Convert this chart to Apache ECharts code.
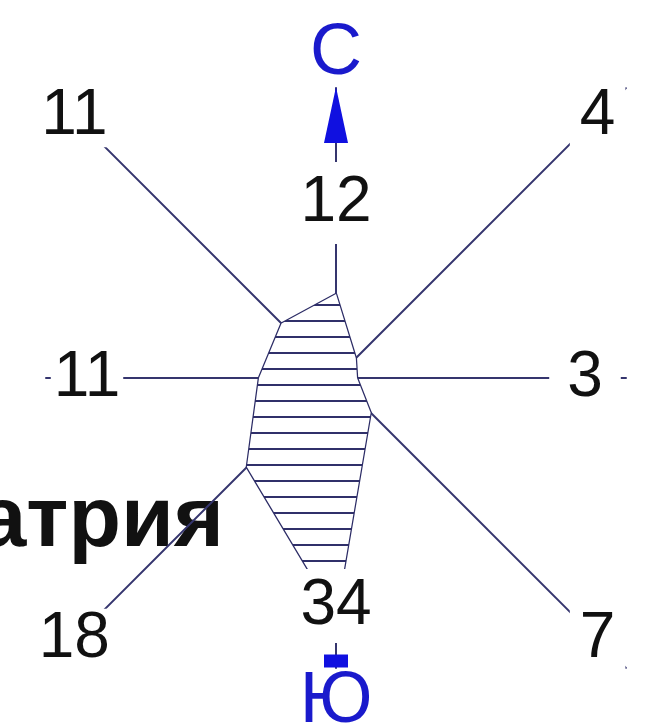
<!DOCTYPE html>
<html>
<head>
<meta charset="utf-8">
<script src="https://cdn.jsdelivr.net/npm/echarts@6/dist/echarts.min.js"></script>
<style>
html, body { margin: 0; padding: 0; background: #fff; }
#chart { width: 655px; height: 728px; }
</style>
</head>
<body>
<div id="chart"></div>
<script>
// wind rose data, compass order
var directions = ['N', 'NE', 'E', 'SE', 'S', 'SW', 'W', 'NW'];
var windValues = [12, 4, 3, 7, 34, 18, 11, 11];
var compassLetters = ['С', 'Ю'];
var caption = 'натрия';

function val(d) { return windValues[directions.indexOf(d)]; }

var navy = '#35356e';
var blue = '#1010e0';
var font = "'Liberation Sans', Arial, sans-serif";
var center = [336, 378];

// horizontal hatch for the polygon
var hatch = document.createElement('canvas');
hatch.width = 16; hatch.height = 16;
var g = hatch.getContext('2d');
g.fillStyle = '#fff'; g.fillRect(0, 0, 16, 16);
g.fillStyle = '#30306a'; g.fillRect(0, 0, 16, 2);

var numName = {
  show: true, color: '#111', fontSize: 64, fontFamily: font, lineHeight: 62,
  backgroundColor: '#fff', padding: [0, 10], align: 'center', verticalAlign: 'middle'
};

function radar(o) {
  return Object.assign({
    center: center,
    shape: 'polygon',
    splitNumber: 1,
    silent: true,
    splitLine: { show: false },
    splitArea: { show: false },
    axisTick: { show: false },
    axisLabel: { show: false },
    axisLine: { show: false },
    axisName: { show: false }
  }, o);
}

function ind(names) {
  return names.map(function (n) { return { name: String(n), max: 30 }; });
}

// radar goes counter-clockwise from startAngle
var polyOrder = ['N', 'NW', 'W', 'SW', 'S', 'SE', 'E', 'NE'];
var diagOrder = ['NE', 'NW', 'SW', 'SE'];

var chart = echarts.init(document.getElementById('chart'));

chart.setOption({
  animation: false,
  backgroundColor: '#fff',
  title: {
    text: caption, right: 431, top: 479, padding: 0, z: 0,
    textStyle: { fontSize: 86, fontWeight: 'bold', color: '#111', fontFamily: font, lineHeight: 86 }
  },
  radar: [
    // 0: polygon
    radar({ startAngle: 90, radius: 210, indicator: ind(polyOrder), z: 0 }),
    // 1: diagonal spokes + values
    radar({
      startAngle: 45, radius: 410, z: 1, axisNameGap: -40,
      indicator: ind(diagOrder.map(val)),
      axisLine: { show: true, lineStyle: { color: navy, width: 2 } },
      axisName: numName
    }),
    // 2: east / west spokes + values
    radar({
      startAngle: 0, radius: 290, z: 1, axisNameGap: -41,
      indicator: ind([val('E'), val('W')]),
      axisLine: { show: true, lineStyle: { color: navy, width: 2 } },
      axisName: Object.assign({}, numName, {
        backgroundColor: 'transparent', padding: 0,
        formatter: function (name) {
          return name === String(val('E')) ? '{e|' + name + '}' : '{w|' + name + '}';
        },
        rich: {
          e: { fontSize: 64, fontFamily: font, color: '#111', lineHeight: 62, backgroundColor: '#fff', padding: [0, 18] },
          w: { fontSize: 64, fontFamily: font, color: '#111', lineHeight: 62, backgroundColor: '#fff', padding: [0, 3] }
        }
      })
    }),
    // 3: north / south spokes + letters
    radar({
      startAngle: 90, radius: 290, z: 1, axisNameGap: 34,
      indicator: ind(compassLetters),
      axisLine: { show: true, lineStyle: { color: navy, width: 2 } },
      axisName: {
        show: true, color: '#1a1acc', fontSize: 72, fontFamily: font,
        align: 'center', verticalAlign: 'middle', padding: [10, 0, 0, 0]
      }
    }),
    // 4: north value
    radar({
      startAngle: 90, radius: 175, z: 3, axisNameGap: 0,
      indicator: ind([val('N')]),
      axisName: Object.assign({}, numName, { padding: [10, 10] })
    }),
    // 5: south value
    radar({
      startAngle: -90, radius: 228, z: 3, axisNameGap: 0,
      indicator: ind([val('S')]),
      axisName: Object.assign({}, numName, { padding: [6, 10] })
    }),
    // 6: north arrow
    radar({
      startAngle: 90, radius: 263, z: 3,
      indicator: ind(['']),
      axisLine: { show: true, symbol: ['none', 'triangle'], symbolSize: [24, 56], lineStyle: { color: blue, width: 0 } }
    }),
    // 7: south tail
    radar({
      startAngle: -90, radius: 283, z: 3,
      indicator: ind(['']),
      axisLine: { show: true, symbol: ['none', 'rect'], symbolSize: [24, 13], lineStyle: { color: blue, width: 0 } }
    })
  ],
  series: [{
    type: 'radar',
    radarIndex: 0,
    z: 2,
    symbol: 'none',
    silent: true,
    lineStyle: { color: '#2c2c66', width: 2.5 },
    areaStyle: { color: { image: hatch, repeat: 'repeat' }, opacity: 1 },
    data: [{ value: polyOrder.map(val), name: 'wind' }]
  }]
});
</script>
</body>
</html>
